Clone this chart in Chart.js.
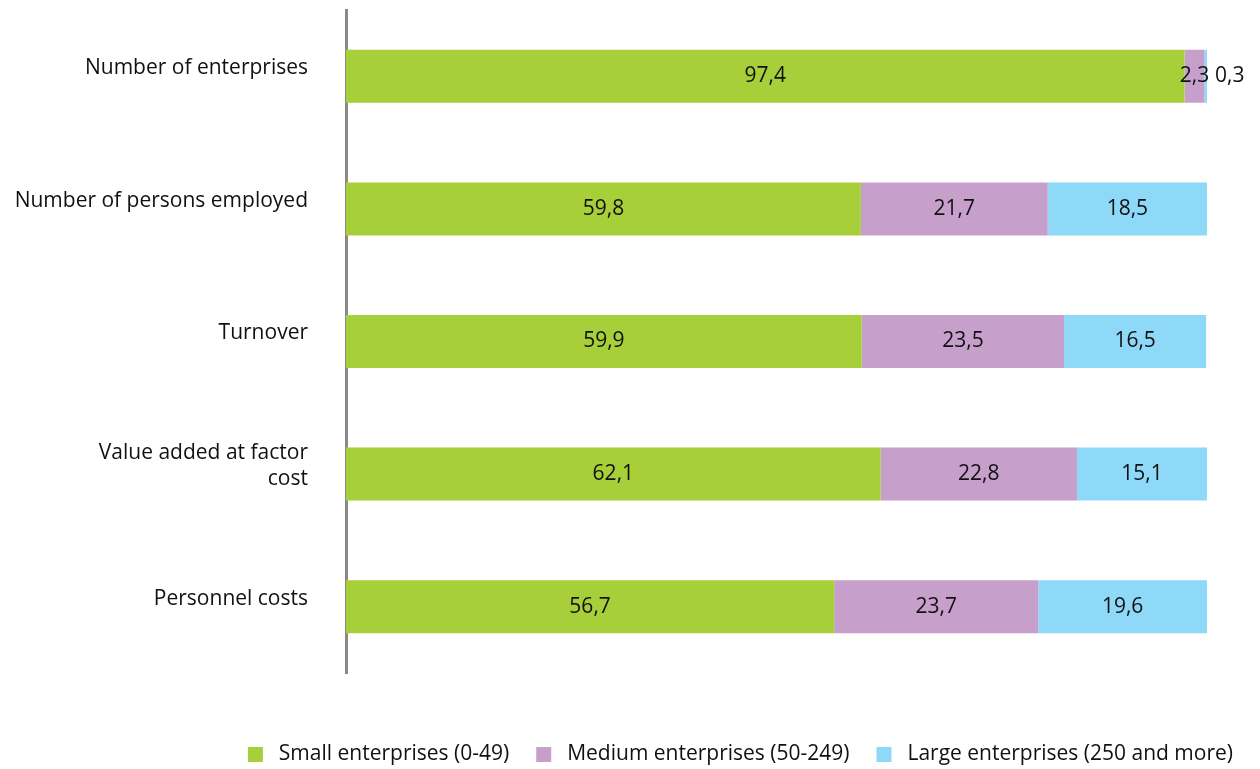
<!DOCTYPE html>
<html lang="en">
<head>
    <meta charset="UTF-8">
    <title>Enterprises by size class</title>
    <script src="https://cdn.jsdelivr.net/npm/chart.js"></script>
    <style>
        html, body { margin: 0; padding: 0; background: #fff; }
        .chart-wrap { width: 1260px; height: 769px; position: relative; }
    </style>
</head>
<body>
    <div class="chart-wrap">
        <canvas id="sizeChart"></canvas>
    </div>

    <script>
        // data, in % of total
        const categories = [
            'Number of enterprises',
            'Number of persons employed',
            'Turnover',
            ['Value added at factor', 'cost'],
            'Personnel costs'
        ];
        const small = [97.4, 59.8, 59.9, 62.1, 56.7];
        const medium = [2.3, 21.7, 23.5, 22.8, 23.7];
        const large = [0.3, 18.5, 16.5, 15.1, 19.6];
        const seriesNames = [
            'Small enterprises (0-49)',
            'Medium enterprises (50-249)',
            'Large enterprises (250 and more)'
        ];

        const FONT = '"Open Sans", sans-serif';

        // value labels in the middle of each segment (tiny ones go outside)
        const valueLabels = {
            id: 'valueLabels',
            afterDatasetsDraw(chart) {
                const ctx = chart.ctx;
                ctx.save();
                ctx.font = '21px ' + FONT;
                ctx.fillStyle = '#111';
                ctx.textBaseline = 'middle';
                chart.data.datasets.forEach((ds, i) => {
                    chart.getDatasetMeta(i).data.forEach((bar, j) => {
                        const txt = ds.data[j].toFixed(1).replace('.', ',');
                        const w = Math.abs(bar.x - bar.base);
                        if (w < 8) {
                            ctx.textAlign = 'left';
                            ctx.fillText(txt, bar.x + 8, bar.y);
                        } else {
                            ctx.textAlign = 'center';
                            ctx.fillText(txt, (bar.x + bar.base) / 2, bar.y);
                        }
                    });
                });
                ctx.restore();
            }
        };

        new Chart(document.getElementById('sizeChart'), {
            type: 'bar',
            data: {
                labels: categories,
                datasets: [
                    { label: ' ' + seriesNames[0], data: small, backgroundColor: '#A7CF3A' },
                    { label: ' ' + seriesNames[1], data: medium, backgroundColor: '#C79FCB' },
                    { label: ' ' + seriesNames[2], data: large, backgroundColor: '#8ED9F8' }
                ]
            },
            options: {
                indexAxis: 'y',
                responsive: true,
                maintainAspectRatio: false,
                animation: false,
                datasets: {
                    bar: { barPercentage: 0.4, categoryPercentage: 1.0, borderWidth: 0 }
                },
                layout: { padding: { top: 10, right: 0, bottom: -6, left: 0 } },
                scales: {
                    // value axis is not drawn, only keeps a gap above the legend
                    x: {
                        stacked: true,
                        min: 0,
                        max: 100,
                        grid: { display: false },
                        border: { display: false },
                        ticks: { display: false },
                        afterFit(scale) { scale.height = 44; }
                    },
                    y: {
                        stacked: true,
                        grid: { display: false, drawTicks: true, tickLength: 38 },
                        border: { display: true, color: '#8a8a8a', width: 3 },
                        ticks: {
                            color: '#111',
                            font: { family: FONT, size: 21, lineHeight: 1.25 },
                            padding: 0,
                            labelOffset: -8
                        },
                        afterFit(scale) {
                            scale.width = 346;
                            scale.paddingTop = 0;
                            scale.paddingBottom = 0;
                        }
                    },
                    // empty axis on the right, only keeps room for the 0,3 label
                    yRight: {
                        type: 'category',
                        position: 'right',
                        grid: { display: false },
                        border: { display: false },
                        ticks: { display: false },
                        afterFit(scale) {
                            scale.width = 53;
                            scale.paddingTop = 0;
                            scale.paddingBottom = 0;
                        }
                    }
                },
                plugins: {
                    legend: {
                        position: 'bottom',
                        align: 'end',
                        labels: {
                            color: '#111',
                            font: { family: FONT, size: 21 },
                            boxWidth: 15,
                            boxHeight: 15,
                            padding: 27
                        }
                    },
                    tooltip: { enabled: false }
                }
            },
            plugins: [valueLabels]
        });
    </script>
</body>
</html>
